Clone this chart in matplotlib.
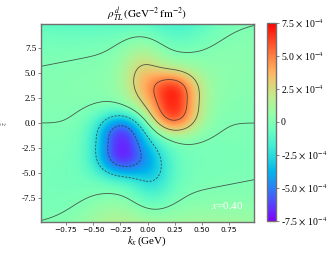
import numpy as np
import matplotlib
matplotlib.use("Agg")
import matplotlib.pyplot as plt
from matplotlib.ticker import FuncFormatter

plt.rcParams['font.family'] = ['Liberation Serif', 'DejaVu Serif']
plt.rcParams['mathtext.fontset'] = 'stix'
plt.rcParams['axes.unicode_minus'] = False
plt.rcParams['lines.dashed_pattern'] = [1.6, 1.0]
plt.rcParams['lines.scale_dashes'] = False

# ---- data ----
kx_range = [-0.98, 0.98]
z_range = [-9.85, 9.85]
# lobes: main positive/negative cores, their upper-left / lower-right extensions, far satellites
lobe_kx = [0.24, -0.24, -0.04, 0.04, 0.30, -0.30]
lobe_z = [2.1, -2.1, 4.7, -4.7, 9.8, -9.8]
lobe_amp = [6.3e-4, -6.3e-4, 2.2e-4, -2.2e-4, -1.0e-4, 1.0e-4]
lobe_sigma_kx = [0.165, 0.165, 0.14, 0.14, 0.22, 0.22]
lobe_sigma_z = [2.4, 2.4, 2.3, 2.3, 2.0, 2.0]
lobe_power_z = [3, 3, 2, 2, 2, 2]
# far-field background: zero lines at z=0 and z - slope*kx = +-offset
bg_amp = 1.0e-4
bg_slope = 2.1
bg_offset = 7.7
bg_width_kx = 0.8

neg_levels = [-5e-4, -2.5e-4]
pos_levels = [0.0, 2.5e-4, 5e-4]
vmin, vmax = -7.5e-4, 7.5e-4
cbar_ticks = [-7.5e-4, -5e-4, -2.5e-4, 0.0, 2.5e-4, 5e-4, 7.5e-4]
cbar_labels = [r'-7.5 $\times$ 10$^{-4}$', r'-5.0 $\times$ 10$^{-4}$', r'-2.5 $\times$ 10$^{-4}$', '0',
               r'2.5 $\times$ 10$^{-4}$', r'5.0 $\times$ 10$^{-4}$', r'7.5 $\times$ 10$^{-4}$']
x_ticks = [-0.75, -0.5, -0.25, 0.0, 0.25, 0.5, 0.75]
z_ticks = [-7.5, -5.0, -2.5, 0.0, 2.5, 5.0, 7.5]

# ---- field ----
kx = np.linspace(kx_range[0], kx_range[1], 300)
z = np.linspace(z_range[0], z_range[1], 300)
KX, Z = np.meshgrid(kx, z)
F = bg_amp * (Z / bg_offset) * (1 - ((Z - bg_slope * KX) / bg_offset) ** 2) * np.exp(-KX ** 2 / (2 * bg_width_kx ** 2))
for x0, z0, a, sx, sz, p in zip(lobe_kx, lobe_z, lobe_amp, lobe_sigma_kx, lobe_sigma_z, lobe_power_z):
    F += a * np.exp(-0.5 * ((KX - x0) / sx) ** 2 - 0.5 * np.abs((Z - z0) / sz) ** p)

fig = plt.figure(figsize=(3.35, 2.58), dpi=100)
ax = fig.add_axes([41 / 335, 1 - 222 / 258, 213 / 335, 198 / 258])
cax = fig.add_axes([267 / 335, 1 - 221 / 258, 9 / 335, 198 / 258])

pm = ax.pcolormesh(KX, Z, F, cmap='rainbow', vmin=vmin, vmax=vmax, shading='gouraud', rasterized=True)
ax.contour(KX, Z, F, levels=pos_levels, colors='#333333', linewidths=0.6, alpha=0.8, linestyles='solid')
ax.contour(KX, Z, F, levels=neg_levels, colors='#333333', linewidths=0.6, alpha=0.8, linestyles='dashed')
ax.set_xlim(kx_range)
ax.set_ylim(z_range)

spine_c = '#707070'
for sp in ax.spines.values():
    sp.set_color(spine_c)
    sp.set_linewidth(1.0)
ax.tick_params(colors=spine_c, length=2, width=0.6, labelcolor='black', pad=1.5)
ax.set_xticks(x_ticks)
ax.set_yticks(z_ticks)
ax.xaxis.set_major_formatter(FuncFormatter(lambda v, p: f'{v:.2f}'.replace('-', '\u2212')))
ax.yaxis.set_major_formatter(FuncFormatter(lambda v, p: f'{v:.1f}'))
for lab in ax.get_xticklabels():
    lab.set_fontfamily('DejaVu Sans')
    lab.set_fontsize(5.3)
for lab in ax.get_yticklabels():
    lab.set_fontsize(6.5)

ax.set_xlabel(r'$k_x\,$(GeV)', fontsize=8, labelpad=1)
ax.set_ylabel(r'$\tilde{z}$', fontsize=5, rotation=90, labelpad=9)
ax.set_title(r'$\rho^{\,d}_{TL}\,(\mathrm{GeV}^{-2}\,\mathrm{fm}^{-2})$', fontsize=8, pad=4)
ax.text(0.73, -8.2, r'$x$=0.40', color='white', fontsize=8, ha='center', va='center')

cb = fig.colorbar(pm, cax=cax, ticks=cbar_ticks)
cb.ax.set_yticklabels(cbar_labels)
cb.ax.tick_params(labelsize=7, length=2, width=0.6, colors=spine_c, labelcolor='black', pad=1.5)
cb.outline.set_edgecolor(spine_c)
cb.outline.set_linewidth(1.0)

fig.savefig('out.png', dpi=100)
